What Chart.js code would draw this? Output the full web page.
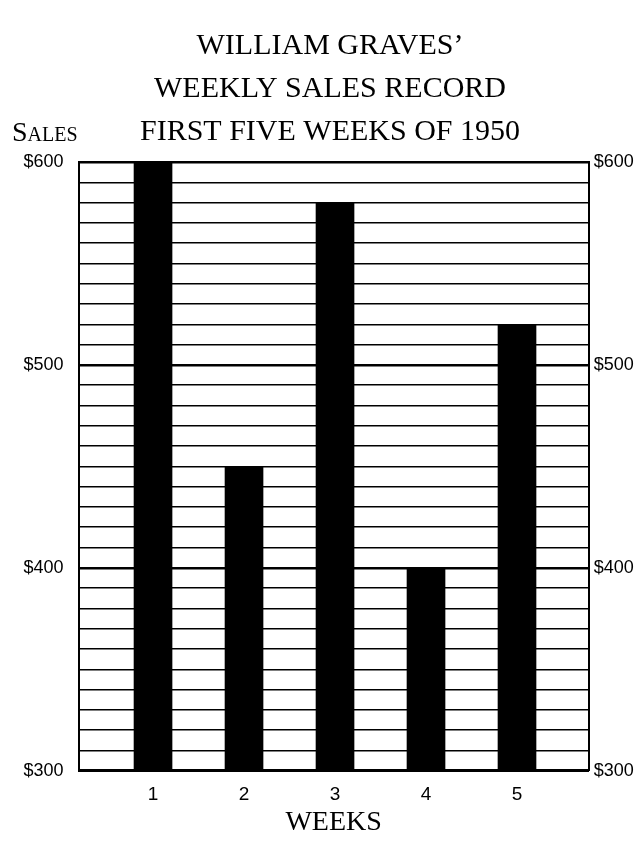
<!DOCTYPE html>
<html>
<head>
<meta charset="utf-8">
<script src="https://cdn.jsdelivr.net/npm/chart.js@4.4.0/dist/chart.umd.min.js"></script>
<style>
  body { margin: 0; background: #fff; }
  #wrap { width: 643px; height: 841px; }
</style>
</head>
<body>
<div id="wrap"><canvas id="salesChart"></canvas></div>
<script>
// values
const weeks = [1, 2, 3, 4, 5];
const sales = [600, 450, 580, 400, 520];
const dollarTicks = [300, 400, 500, 600];
const titleLines = ["WILLIAM GRAVES\u2019", 'WEEKLY SALES RECORD', 'FIRST FIVE WEEKS OF 1950'];

const serif = "'Liberation Serif', 'Times New Roman', serif";
const hand = "'Liberation Sans', 'DejaVu Sans', sans-serif";

// the "Sales" word sits on the last title line, left of the chart
const salesLabel = {
  id: 'salesLabel',
  afterDraw(chart) {
    const ctx = chart.ctx;
    ctx.save();
    ctx.font = 'small-caps 28px ' + serif;
    ctx.fillStyle = '#000';
    ctx.textBaseline = 'alphabetic';
    ctx.fillText('Sales', 12, 141);
    ctx.restore();
  }
};

const moneyLabel = (v) => dollarTicks.includes(v) ? '$' + v : '';
const gridWidth = (c) => (c.tick && c.tick.value % 100 === 0) ? 2.6 : 1.5;

const salesChart = new Chart(document.getElementById('salesChart'), {
  type: 'bar',
  data: {
    datasets: [{
      label: 'Sales',
      data: weeks.map((w, i) => ({ x: w, y: sales[i] })),
      backgroundColor: '#000',
      borderWidth: 0,
      barThickness: 38,
      base: 300
    }]
  },
  options: {
    responsive: true,
    maintainAspectRatio: false,
    animation: false,
    layout: { padding: { left: 17, right: 0, top: 0, bottom: 0 } },
    plugins: {
      legend: { display: false },
      tooltip: { enabled: false },
      title: {
        display: true,
        text: titleLines,
        color: '#000',
        font: { family: serif, size: 30, weight: 'normal', lineHeight: 43 / 30 },
        padding: { top: 24.5, bottom: 8.5 }
      }
    },
    scales: {
      x: {
        type: 'linear',
        offset: false,
        min: 0.181,
        max: 5.789,
        afterBuildTicks: (s) => { s.ticks = weeks.map(v => ({ value: v })); },
        afterFit: (s) => { s.height = 70.3; },
        grid: { display: true, color: 'rgba(0,0,0,0)', drawTicks: false },
        border: { display: true, color: '#000', width: 2 },
        ticks: { color: '#000', font: { family: hand, size: 19 }, padding: 13, autoSkip: false, maxRotation: 0 },
        title: { display: true, text: 'WEEKS', color: '#000', font: { family: serif, size: 28 }, padding: { top: 0, bottom: 2 } }
      },
      y: {
        position: 'left',
        min: 300,
        max: 600,
        afterFit: (s) => { s.width = 61.5; },
        grid: { color: '#000', lineWidth: gridWidth, drawTicks: false },
        border: { display: true, color: '#000', width: 2 },
        ticks: { stepSize: 10, autoSkip: false, color: '#000', font: { family: hand, size: 18 }, padding: 15, callback: moneyLabel }
      },
      y2: {
        position: 'right',
        min: 300,
        max: 600,
        afterFit: (s) => { s.width = 54.2; },
        grid: { drawOnChartArea: false, drawTicks: false },
        border: { display: true, color: '#000', width: 2 },
        ticks: { stepSize: 10, autoSkip: false, color: '#000', font: { family: hand, size: 18 }, padding: 5, callback: moneyLabel }
      }
    }
  },
  plugins: [salesLabel]
});
</script>
</body>
</html>
